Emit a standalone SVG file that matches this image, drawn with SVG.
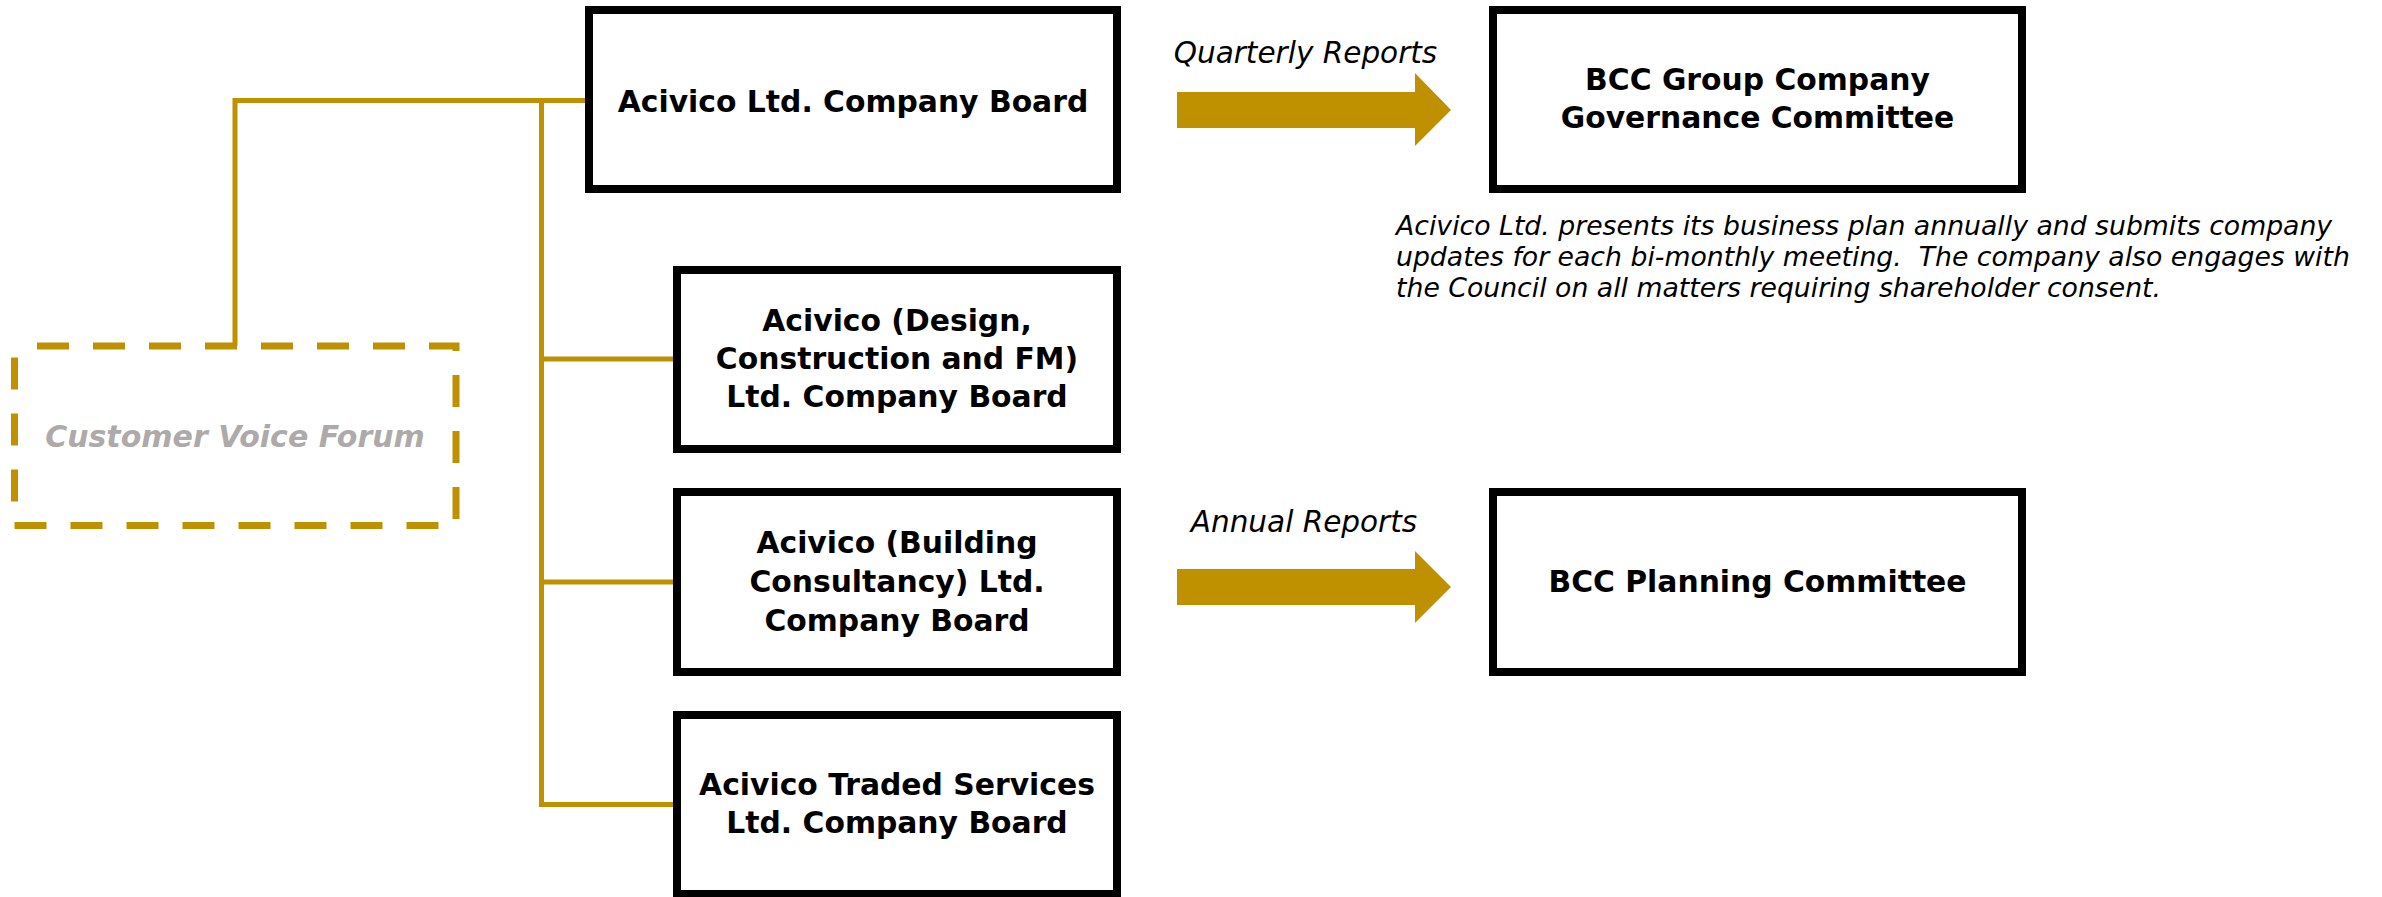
<svg xmlns="http://www.w3.org/2000/svg" width="2382" height="897" viewBox="0 0 2382 897">
  <style>
    .box { fill: #ffffff; stroke: #000000; stroke-width: 8; }
    .dash { fill: none; stroke: #BF9000; stroke-width: 7; stroke-dasharray: 32 24; stroke-dashoffset: 33.5; }
    .conn { fill: none; stroke: #BF9000; stroke-width: 5; }
    .arrow { fill: #BF9000; }
    .bt { font-family: "DejaVu Sans", "Liberation Sans", sans-serif; font-weight: bold; font-size: 29.8px; text-anchor: middle; fill: #000000; }
    .cvf { font-family: "DejaVu Sans", "Liberation Sans", sans-serif; font-weight: bold; font-style: italic; font-size: 30px; text-anchor: middle; fill: #AEAAAA; }
    .lbl { font-family: "DejaVu Sans", "Liberation Sans", sans-serif; font-style: italic; font-size: 29.5px; text-anchor: middle; fill: #000000; }
    .note { font-family: "DejaVu Sans", "Liberation Sans", sans-serif; font-style: italic; font-size: 26.7px; fill: #000000; }
  </style>
  <rect width="2382" height="897" fill="#ffffff"/>

  <g id="connectors">
    <path class="conn" d="M235,346 V100.5 H541.5"/>
    <path class="conn" d="M589,100.5 H541.5 V804.5 H677"/>
    <path class="conn" d="M541.5,359 H677"/>
    <path class="conn" d="M541.5,582 H677"/>
    <g id="arrow-quarterly">
      <polygon class="arrow" points="1177,92 1415,92 1415,73 1451,110 1415,146 1415,128 1177,128"/>
      <text class="lbl" x="1305.5" y="63">Quarterly Reports</text>
    </g>
    <g id="arrow-annual">
      <polygon class="arrow" points="1177,569 1415,569 1415,551 1451,587 1415,623 1415,605 1177,605"/>
      <text class="lbl" x="1304" y="532">Annual Reports</text>
    </g>
  </g>

  <g id="node-cvf">
    <path class="dash" d="M14.5,346 H456 V525.5 H14.5 Z"/>
    <text class="cvf" x="235" y="447">Customer Voice Forum</text>
  </g>

  <g id="node-acivico-ltd">
    <rect class="box" x="589" y="10" width="528" height="179"/>
    <text class="bt" x="853" y="112">Acivico Ltd. Company Board</text>
  </g>

  <g id="node-design">
    <rect class="box" x="677" y="270" width="440" height="179"/>
    <text class="bt" x="897" y="331">Acivico (Design,</text>
    <text class="bt" x="897" y="369">Construction and FM)</text>
    <text class="bt" x="897" y="407">Ltd. Company Board</text>
  </g>

  <g id="node-building">
    <rect class="box" x="677" y="492" width="440" height="180"/>
    <text class="bt" x="897" y="553">Acivico (Building</text>
    <text class="bt" x="897" y="592">Consultancy) Ltd.</text>
    <text class="bt" x="897" y="631">Company Board</text>
  </g>

  <g id="node-traded">
    <rect class="box" x="677" y="715" width="440" height="179"/>
    <text class="bt" x="897" y="795">Acivico Traded Services</text>
    <text class="bt" x="897" y="833">Ltd. Company Board</text>
  </g>

  <g id="node-bcc-governance">
    <rect class="box" x="1493" y="10" width="529" height="179"/>
    <text class="bt" x="1757.5" y="90">BCC Group Company</text>
    <text class="bt" x="1757.5" y="128">Governance Committee</text>
  </g>

  <g id="node-bcc-planning">
    <rect class="box" x="1493" y="492" width="529" height="180"/>
    <text class="bt" x="1757.5" y="592">BCC Planning Committee</text>
  </g>

  <g id="note">
    <text class="note" x="1396" y="235">Acivico Ltd. presents its business plan annually and submits company</text>
    <text class="note" x="1396" y="266" xml:space="preserve">updates for each bi-monthly meeting.  The company also engages with</text>
    <text class="note" x="1396" y="297">the Council on all matters requiring shareholder consent.</text>
  </g>
</svg>
